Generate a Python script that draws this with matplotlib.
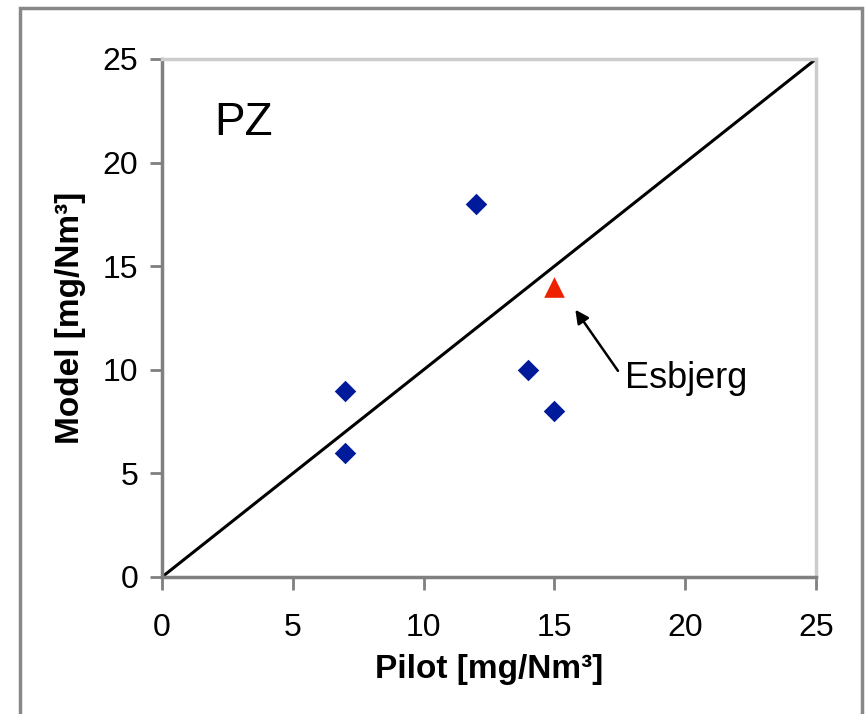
import matplotlib
matplotlib.use("Agg")
import matplotlib.pyplot as plt
from matplotlib.patches import Rectangle

pilot = [7, 7, 12, 14, 15]
model = [9, 6, 18, 10, 8]
esb_pilot = [15]
esb_model = [14]
line_x = [0, 25]
line_y = [0, 25]
ticks = [0, 5, 10, 15, 20, 25]

plt.rcParams['font.family'] = ['Liberation Sans', 'DejaVu Sans']

fig = plt.figure(figsize=(8.65, 7.14), dpi=100)
W, H = 865, 714
ax = fig.add_axes([162 / W, 1 - 577 / H, (816 - 162) / W, (577 - 59) / H])

ax.plot(line_x, line_y, color='black', lw=2.2, zorder=2)
ax.scatter(pilot, model, marker='D', s=120, color='#001a9c', zorder=3, linewidths=0)
ax.scatter(esb_pilot, esb_model, marker='^', s=220, color='#ee2200', zorder=3, linewidths=0)

ax.annotate('', xy=(15.8, 12.9), xytext=(17.43, 9.95),
            arrowprops=dict(arrowstyle='-|>', color='black', lw=1.8,
                            mutation_scale=20, shrinkA=0, shrinkB=0))
ax.text(17.7, 9.6, 'Esbjerg', fontsize=26, va='center', ha='left')
ax.text(2.0, 21.9, 'PZ', fontsize=33, va='center', ha='left')

ax.set_xlim(0, 25)
ax.set_ylim(0, 25)
ax.set_xticks(ticks)
ax.set_yticks(ticks)
ax.tick_params(direction='out', length=9, width=2, color='#808080',
               labelsize=23)
ax.tick_params(axis='x', pad=17)
ax.tick_params(axis='y', pad=8)
for s in ['left', 'bottom']:
    ax.spines[s].set_color('#808080')
    ax.spines[s].set_linewidth(2.5)
for s in ['top', 'right']:
    ax.spines[s].set_color('#cccccc')
    ax.spines[s].set_linewidth(2.5)

ax.set_xlabel('Pilot [mg/Nm³]', fontsize=24, fontweight='bold', labelpad=8)
ax.set_ylabel('Model [mg/Nm³]', fontsize=24, fontweight='bold', labelpad=12)

fig.patches.append(Rectangle((20 / W, -0.05), (862 - 20) / W, 1.05 - 8 / H,
                             transform=fig.transFigure, fill=False,
                             edgecolor='#888888', lw=2.5))

fig.savefig('out.png', dpi=100)
